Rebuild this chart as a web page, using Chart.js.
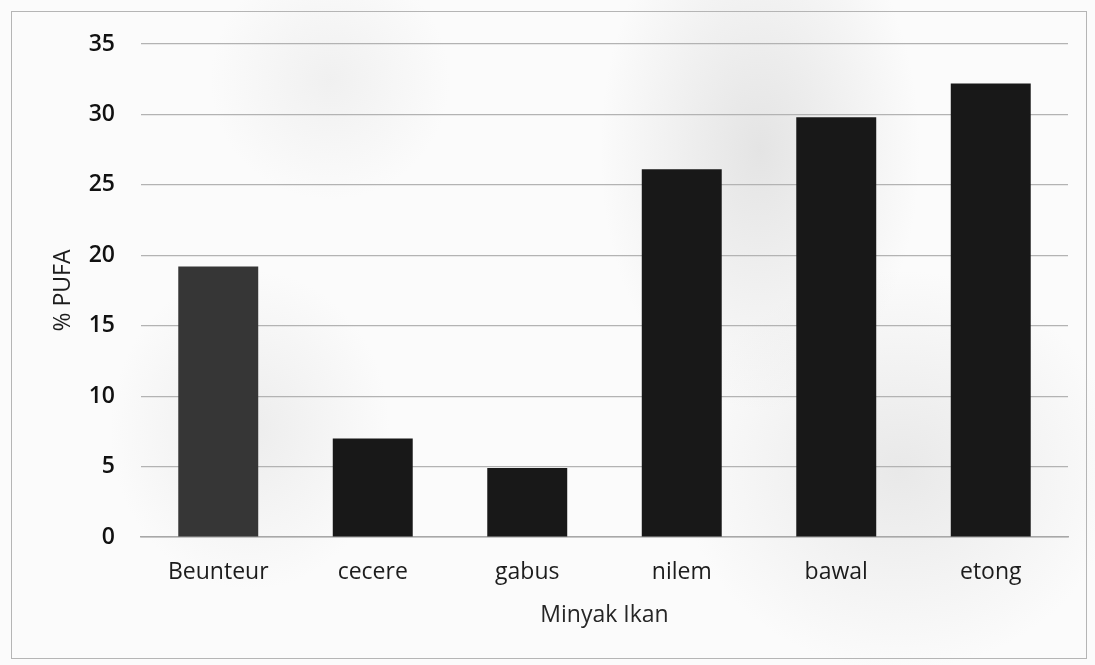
<!DOCTYPE html>
<html>
<head>
<meta charset="utf-8">
<title>% PUFA Minyak Ikan</title>
<script src="https://cdn.jsdelivr.net/npm/chart.js@4/dist/chart.umd.min.js"></script>
<style>
  html, body { margin: 0; padding: 0; background: #ffffff; }
  #wrap {
    position: relative; width: 1095px; height: 665px; overflow: hidden;
    background:
      radial-gradient(ellipse 160px 260px at 760px 150px, rgba(200,200,200,0.45), rgba(200,200,200,0) 100%),
      radial-gradient(ellipse 220px 200px at 900px 470px, rgba(205,205,205,0.40), rgba(205,205,205,0) 100%),
      radial-gradient(ellipse 140px 160px at 250px 430px, rgba(210,210,210,0.35), rgba(210,210,210,0) 100%),
      radial-gradient(ellipse 120px 120px at 330px 80px, rgba(215,215,215,0.30), rgba(215,215,215,0) 100%),
      #fbfbfb;
  }
  #frame {
    position: absolute; left: 11px; top: 11px; width: 1076px; height: 648px;
    border: 1px solid #b5b5b5; box-sizing: border-box; pointer-events: none;
  }
  canvas { position: absolute; left: 0; top: 0; }
</style>
</head>
<body>
<div id="wrap">
  <div id="frame"></div>
  <canvas id="chart" width="1095" height="665"></canvas>
</div>
<script>
// Fish oils and their polyunsaturated fatty acid share (%)
const categories = ['Beunteur', 'cecere', 'gabus', 'nilem', 'bawal', 'etong'];
const pufaValues = [19.2, 7.0, 4.9, 26.1, 29.8, 32.2];
const yTicks = [0, 5, 10, 15, 20, 25, 30, 35];
const barColors = ['#363636', '#181818', '#181818', '#181818', '#181818', '#181818'];

const FONT = "'Open Sans', 'Liberation Sans', sans-serif";

new Chart(document.getElementById('chart'), {
  type: 'bar',
  data: {
    labels: categories,
    datasets: [{
      data: pufaValues,
      backgroundColor: barColors,
      borderWidth: 0,
      barPercentage: 0.9,
      categoryPercentage: 0.575
    }]
  },
  options: {
    responsive: false,
    animation: false,
    devicePixelRatio: 1,
    layout: { padding: { left: 0, right: 27, top: 44, bottom: 0 } },
    plugins: {
      legend: { display: false },
      tooltip: { enabled: false }
    },
    scales: {
      x: {
        grid: { display: false, drawTicks: false },
        border: { display: true, color: '#a8a8a8', width: 1.5 },
        ticks: {
          padding: 22,
          color: '#1c1c1c',
          font: { family: FONT, size: 23 }
        },
        title: {
          display: true,
          text: 'Minyak Ikan',
          color: '#262626',
          font: { family: FONT, size: 23 },
          padding: { top: 0, bottom: 36 }
        },
        afterFit: (scale) => { scale.height = 128; }
      },
      y: {
        min: 0,
        max: 35,
        afterBuildTicks: (scale) => { scale.ticks = yTicks.map(v => ({ value: v })); },
        grid: { color: '#b3b3b3', lineWidth: 1.2, drawTicks: false },
        border: { display: false },
        ticks: {
          padding: 26,
          color: '#111111',
          font: { family: FONT, size: 23, weight: '600' }
        },
        title: {
          display: true,
          text: '% PUFA',
          color: '#1c1c1c',
          font: { family: FONT, size: 23 },
          padding: { top: 50, bottom: 0 }
        },
        afterFit: (scale) => { scale.width = 141; }
      }
    }
  }
});
</script>
</body>
</html>
